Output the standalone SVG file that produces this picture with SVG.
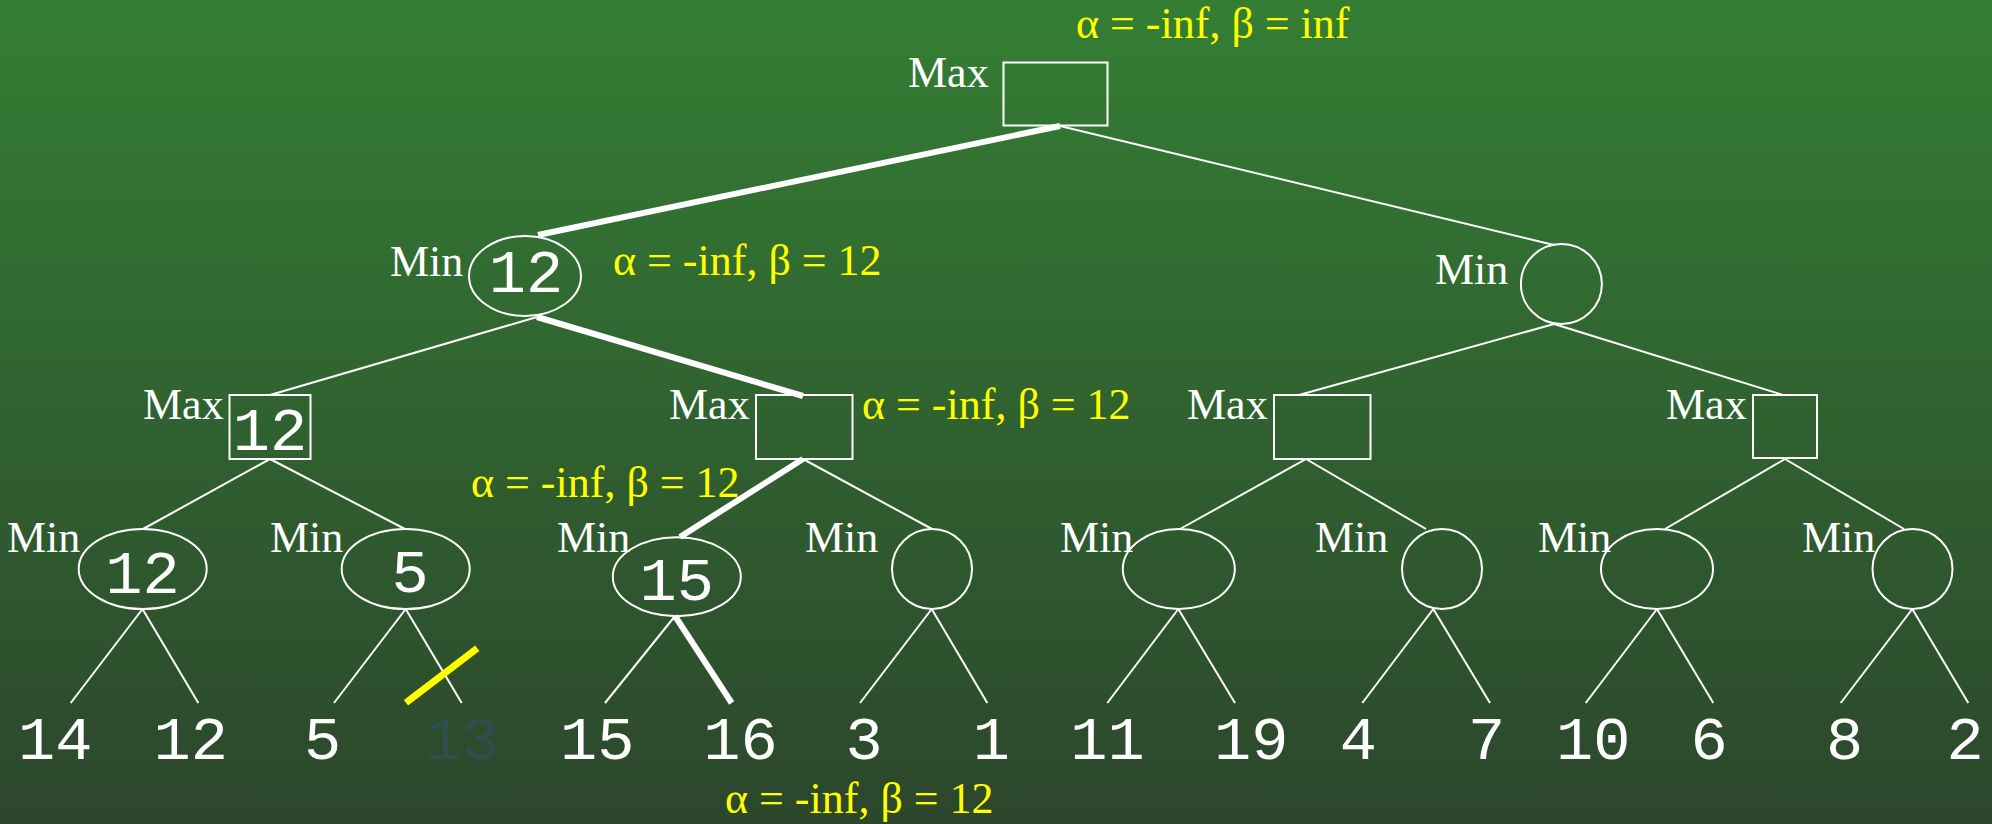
<svg xmlns="http://www.w3.org/2000/svg" width="1992" height="824" viewBox="0 0 1992 824">
<defs>
<linearGradient id="bg" x1="0" y1="0" x2="0" y2="1">
<stop offset="0" stop-color="#347e34"/>
<stop offset="1" stop-color="#2c462c"/>
</linearGradient>
</defs>
<style>
.node{fill:none;stroke:#ffffff;stroke-width:2}
.lbl{font-family:"Liberation Serif","Times New Roman",serif;font-size:44px;fill:#ffffff}
.ab{font-family:"Liberation Serif","Times New Roman",serif;font-size:44px;fill:#ffff00}
.val{font-family:"Liberation Mono","Courier New",monospace;font-size:62px;fill:#ffffff;text-anchor:middle}
.cut{fill:#2f4f4f}
.e{stroke:#ffffff;stroke-width:2;fill:none}
.t{stroke:#ffffff;stroke-width:6;fill:none}
</style>
<rect x="0" y="0" width="1992" height="824" fill="url(#bg)"/>
<g id="connectors">
<line class="t" x1="1060" y1="126" x2="538" y2="235"/>
<line class="e" x1="1060" y1="126" x2="1554" y2="245"/>
<line class="e" x1="537" y1="317" x2="270" y2="395"/>
<line class="t" x1="537" y1="317" x2="803" y2="396"/>
<line class="e" x1="1554" y1="324" x2="1299" y2="395"/>
<line class="e" x1="1554" y1="324" x2="1783" y2="395"/>
<line class="e" x1="270" y1="459" x2="143" y2="529"/>
<line class="e" x1="270" y1="459" x2="405" y2="529"/>
<line class="t" x1="803" y1="459" x2="680" y2="537"/>
<line class="e" x1="803" y1="459" x2="932" y2="529"/>
<line class="e" x1="1306" y1="459" x2="1180" y2="529"/>
<line class="e" x1="1306" y1="459" x2="1426" y2="529"/>
<line class="e" x1="1785" y1="459" x2="1665" y2="529"/>
<line class="e" x1="1785" y1="459" x2="1904" y2="529"/>
<line class="e" x1="142.5" y1="609" x2="70.7" y2="703"/>
<line class="e" x1="142.5" y1="609" x2="198.3" y2="703"/>
<line class="e" x1="405.7" y1="609" x2="334" y2="703"/>
<line class="e" x1="405.7" y1="609" x2="461.7" y2="703"/>
<line class="e" x1="675" y1="616" x2="605" y2="703"/>
<line class="t" x1="675" y1="616" x2="731.7" y2="703"/>
<line class="e" x1="931.7" y1="609" x2="860" y2="703"/>
<line class="e" x1="931.7" y1="609" x2="987.3" y2="703"/>
<line class="e" x1="1178.3" y1="609" x2="1107.3" y2="703"/>
<line class="e" x1="1178.3" y1="609" x2="1235" y2="703"/>
<line class="e" x1="1433.3" y1="609" x2="1362.3" y2="703"/>
<line class="e" x1="1433.3" y1="609" x2="1490" y2="703"/>
<line class="e" x1="1657" y1="609" x2="1585.7" y2="703"/>
<line class="e" x1="1657" y1="609" x2="1713.3" y2="703"/>
<line class="e" x1="1912.3" y1="609" x2="1840.7" y2="703"/>
<line class="e" x1="1912.3" y1="609" x2="1968.3" y2="703"/>
<line x1="406" y1="702.7" x2="477.3" y2="648.3" stroke="#ffff00" stroke-width="7"/>
</g>
<g id="root">
<rect class="node" x="1003.5" y="62.5" width="104" height="63"/>
<text class="lbl" x="908" y="87">Max</text>
<text class="ab" x="1076" y="38">α = -inf, β = inf</text>
</g>
<g id="min-l">
<ellipse class="node" cx="525" cy="276" rx="56" ry="40"/>
<text class="val" x="526" y="292">12</text>
<text class="lbl" x="390" y="276">Min</text>
<text class="ab" x="613" y="275">α = -inf, β = 12</text>
</g>
<g id="min-r">
<ellipse class="node" cx="1561.4" cy="284" rx="40.5" ry="40"/>
<text class="lbl" x="1435" y="284">Min</text>
</g>
<g id="max-1">
<rect class="node" x="229.5" y="395" width="81" height="64"/>
<text class="val" x="270" y="450">12</text>
<text class="lbl" x="143" y="419">Max</text>
</g>
<g id="max-2">
<rect class="node" x="756" y="395" width="96.5" height="64"/>
<text class="lbl" x="669" y="419">Max</text>
<text class="ab" x="862" y="419">α = -inf, β = 12</text>
</g>
<g id="max-3">
<rect class="node" x="1274" y="395" width="96.5" height="64"/>
<text class="lbl" x="1187" y="419">Max</text>
</g>
<g id="max-4">
<rect class="node" x="1753" y="395" width="64" height="63"/>
<text class="lbl" x="1666" y="419">Max</text>
</g>
<g id="min-1">
<ellipse class="node" cx="142.7" cy="569" rx="64" ry="40"/>
<text class="val" x="142.5" y="593">12</text>
<text class="lbl" x="7" y="552">Min</text>
</g>
<g id="min-2">
<ellipse class="node" cx="405.7" cy="569" rx="64" ry="40"/>
<text class="val" x="410" y="592">5</text>
<text class="lbl" x="270" y="552">Min</text>
</g>
<g id="min-3">
<ellipse class="node" cx="676.8" cy="576.7" rx="64" ry="39.5"/>
<text class="val" x="676.7" y="600">15</text>
<text class="lbl" x="557" y="552">Min</text>
<text class="ab" x="471" y="497">α = -inf, β = 12</text>
</g>
<g id="min-4">
<ellipse class="node" cx="932" cy="569" rx="40" ry="40"/>
<text class="lbl" x="805" y="552">Min</text>
</g>
<g id="min-5">
<ellipse class="node" cx="1178.8" cy="569" rx="56" ry="40"/>
<text class="lbl" x="1060" y="552">Min</text>
</g>
<g id="min-6">
<ellipse class="node" cx="1442" cy="569" rx="40" ry="40"/>
<text class="lbl" x="1315" y="552">Min</text>
</g>
<g id="min-7">
<ellipse class="node" cx="1657" cy="569" rx="56" ry="40"/>
<text class="lbl" x="1538" y="552">Min</text>
</g>
<g id="min-8">
<ellipse class="node" cx="1912.5" cy="569" rx="40" ry="40"/>
<text class="lbl" x="1802" y="552">Min</text>
</g>
<g id="leaves">
<text class="val" x="55.3" y="759">14</text>
<text class="val" x="190.8" y="759">12</text>
<text class="val" x="322.5" y="759">5</text>
<text class="val cut" x="461.7" y="759">13</text>
<text class="val" x="597.2" y="759">15</text>
<text class="val" x="740.5" y="759">16</text>
<text class="val" x="864.2" y="759">3</text>
<text class="val" x="991.3" y="759">1</text>
<text class="val" x="1107.5" y="759">11</text>
<text class="val" x="1251.3" y="759">19</text>
<text class="val" x="1358.3" y="759">4</text>
<text class="val" x="1486.7" y="759">7</text>
<text class="val" x="1593.3" y="759">10</text>
<text class="val" x="1709.2" y="759">6</text>
<text class="val" x="1844.7" y="759">8</text>
<text class="val" x="1965" y="759">2</text>
</g>
<text class="ab" x="725" y="813">α = -inf, β = 12</text>
</svg>
